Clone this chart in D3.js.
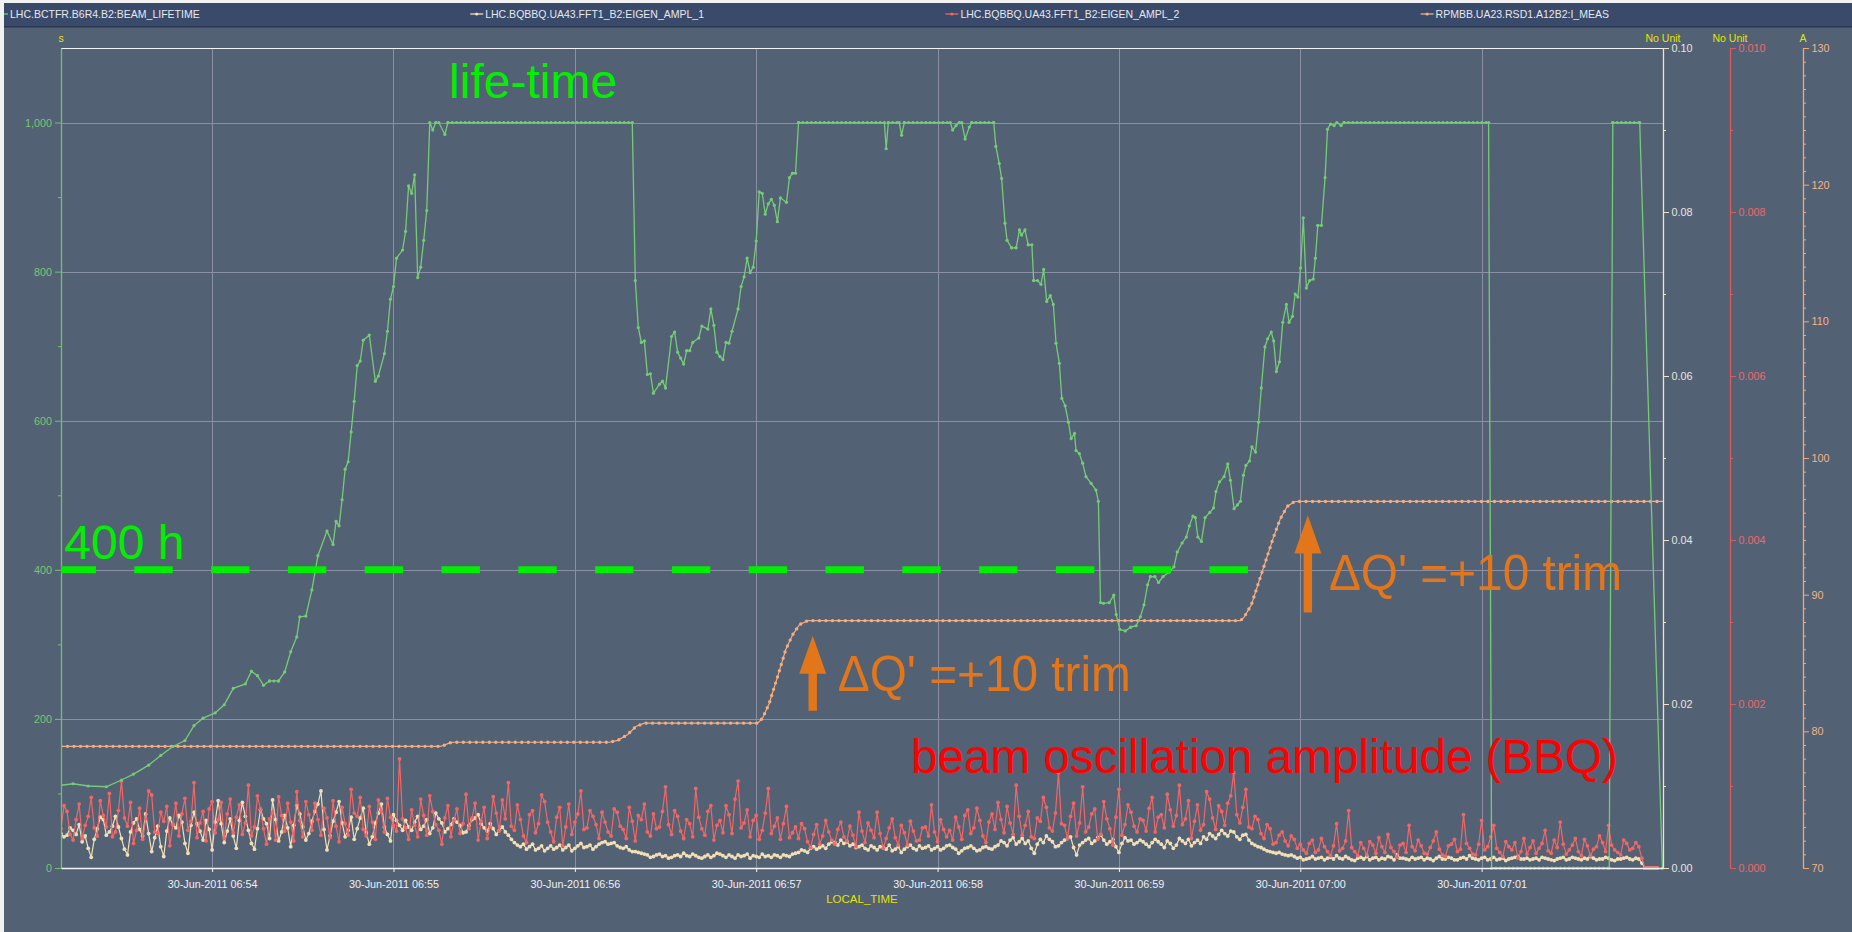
<!DOCTYPE html>
<html>
<head>
<meta charset="utf-8">
<script src="https://cdn.jsdelivr.net/npm/d3@7"></script>
<style>
  html, body { margin: 0; padding: 0; background: #536174; overflow: hidden; }
  svg { display: block; }
  text { font-family: "Liberation Sans", Arial, sans-serif; }
</style>
</head>
<body>
<svg id="chart"></svg>
<script>
const width = 1852, height = 932;
const plotLeft = 61, plotRight = 1663, plotTop = 48, plotBottom = 868;

// all times are seconds after 30-Jun-2011 06:53:00
const startTime = new Date(2011, 5, 30, 6, 53, 0);
const timeDomain = [10, 540];

const legendNames = ['LHC.BCTFR.B6R4.B2:BEAM_LIFETIME', 'LHC.BQBBQ.UA43.FFT1_B2:EIGEN_AMPL_1',
    'LHC.BQBBQ.UA43.FFT1_B2:EIGEN_AMPL_2', 'RPMBB.UA23.RSD1.A12B2:I_MEAS'];
const unitNames = ['s', 'No Unit', 'No Unit', 'A'];

const lifeTicks = [0, 200, 400, 600, 800, 1000];
const lifeMinor = [100, 300, 500, 700, 900];
const ampl1Ticks = [0, 0.02, 0.04, 0.06, 0.08, 0.10];
const ampl1Minor = [0.01, 0.03, 0.05, 0.07, 0.09];
const ampl2Ticks = [0, 0.002, 0.004, 0.006, 0.008, 0.010];
const ampl2Minor = [0.001, 0.003, 0.005, 0.007, 0.009];
const currentTicks = [70, 80, 90, 100, 110, 120, 130];

// beam lifetime [s after 06:53, lifetime]
const lifetime = [
    [10,111],[14,113],[19,110],[25,109],[30,118],[34,126],[39,138],[43,151],[47,163],[51,171],
    [54,191],[57,201],[61,208],[64,219],[67,241],[71,247],[73,264],[75,258],[77,245],[79,251],
    [82,251],[84,263],[86,290],[88,310],[89,337],[91,338],[93,373],[95,419],[98,452],[100,434],
    [101,465],[102,459],[103,494],[104,535],[105,545],[106,585],[107,626],[108,674],[109,680],[110,708],
    [112,715],[114,653],[115,660],[117,690],[118,720],[119,763],[120,780],[121,818],[123,829],[124,854],
    [125,915],[126,905],[127,930],[128,792],[129,806],[130,842],[131,882],[132,1000],[133,990],[134,1000],
    [135,1000],[137,984],[138,1000],[199,1000],[200,788],[201,725],[202,705],[203,707],[204,662],[205,663],
    [206,637],[208,649],[209,653],[210,644],[212,713],[213,719],[214,692],[215,684],[216,676],[217,694],
    [218,694],[219,705],[221,711],[222,727],[224,723],[225,750],[226,728],[227,692],[228,686],[229,682],
    [230,705],[231,704],[232,720],[234,750],[235,780],[236,793],[237,818],[238,799],[239,806],[240,841],
    [241,907],[242,905],[243,877],[244,891],[245,897],[246,889],[247,867],[248,899],[250,893],[251,926],
    [252,932],[253,932],[254,1000],[282.4,1000],[283,965],[283.7,1000],[287.3,1000],[288.1,983],[289,1000],[304.2,1000],
    [305,990],[306.1,996],[307.2,1000],[308,1000],[309.1,978],[310.5,994],[311.3,1000],[318.6,1000],[319.3,968],[320.4,945],
    [321.2,925],[322.3,865],[323,842],[324.5,832],[326,832],[327.1,856],[327.8,849],[328.9,856],[330,836],[331.2,836],
    [331.8,788],[333.1,788],[334.2,783],[335.1,803],[336.1,760],[337.3,768],[338.3,756],[339.2,704],[340.3,677],[341.1,630],
    [342.2,620],[343.3,598],[344.2,576],[345.3,583],[345.8,560],[346.9,556],[348,543],[349.1,525],[350.8,516],[352.4,507],
    [353.2,492],[353.9,356],[354.9,355],[356.8,356],[358.3,366],[359.1,340],[360.3,320],[362.1,318],[363.9,323],[365.7,325],
    [367.1,337],[368.3,353],[369.5,380],[370.4,391],[371.9,391],[373.1,383],[374.6,391],[376.6,397],[378.2,404],[379.3,424],
    [380.9,436],[382.3,444],[383.3,459],[384.5,472],[385.3,470],[386.1,444],[387.3,438],[388.5,470],[390.1,477],[391.3,483],
    [392.1,505],[393.3,518],[394.8,525],[396,542],[396.9,520],[398.1,482],[399.2,487],[400.2,492],[401.2,527],[402,540],
    [403.2,546],[404,565],[405.2,558],[406.2,598],[407.1,644],[408.3,699],[409.2,710],[410.4,719],[411.2,707],[412.1,666],
    [413.1,679],[414.2,732],[415.4,756],[416.3,732],[417.4,740],[418.3,770],[419.2,766],[420.1,805],[421,872],[422,778],
    [423.1,788],[424.3,790],[425,818],[425.8,862],[427,862],[428.2,926],[429,991],[430,998],[431.2,996],[432.1,1000],
    [433.5,996],[434.5,1000],[482.3,1000],[483.3,0],[522.2,0],[523.4,1000],[532.3,1000],[539.8,0]
];

// RSD1 current [s after 06:53, A]
const iMeas = [
    [10,78.9],[135.5,78.9],[137,79.0],[138.5,79.15],[140,79.2],[191.4,79.2],[194.2,79.34],[197.5,79.77],
    [200.2,80.35],[203,80.6],[240.5,80.6],[242.1,80.96],[244.3,82.04],[247.1,84.02],[249.8,86.0],[252.1,87.08],
    [254.3,87.8],[257,88.1],[400.2,88.1],[401.4,88.35],[403.8,89.25],[406.2,90.87],[408.6,92.49],[411,94.12],
    [413.4,95.56],[415.7,96.46],[418,96.8],[419.3,96.82],[540,96.82]
];

// BBQ amplitudes, one sample per second from 06:53:10
const bbqStart = 10, bbqStep = 1;
// EIGEN_AMPL_1, in units of 1e-3
const ampl1 = [
    4.2,3.8,4.0,4.9,4.6,4.1,5.3,3.2,3.9,2.4,1.3,3.5,4.8,6.2,5.9,4.0,4.4,5.1,6.3,5.0,
    3.6,2.3,1.6,4.4,5.5,6.0,4.7,3.9,6.6,4.2,2.0,3.7,5.1,2.6,1.4,4.5,6.1,5.3,4.9,6.4,
    5.6,3.0,1.8,5.2,6.8,5.4,4.5,3.4,5.8,4.7,2.2,5.6,
    8.2,5.4,3.1,4.5,6.0,3.9,2.4,5.8,8.0,6.3,4.6,3.0,2.3,4.8,7.1,6.0,5.4,3.6,8.3,5.9,
    3.3,4.4,6.4,4.9,2.6,5.2,7.6,6.6,5.0,3.4,4.2,5.7,6.9,7.8,9.4,4.7,2.2,3.9,5.7,6.8,
    8.1,5.5,3.8,4.6,6.2,3.5,4.8,6.1,7.3,4.3,2.9,3.8,5.5,6.7,7.8,5.0,4.1,3.3,6.5,5.8,
    5.2,4.6,
    5.8,5.0,4.6,5.6,6.3,4.7,5.1,5.9,4.2,4.9,6.7,6.0,5.5,4.4,4.8,5.3,6.0,5.6,5.2,4.3,
    4.4,5.2,5.9,6.1,6.5,5.4,4.9,4.5,5.4,4.8,4.1,4.6,5.0,4.4,
    4.0,3.5,3.1,2.8,2.6,2.9,2.3,2.6,2.9,2.2,2.4,2.7,2.1,2.4,2.7,2.3,2.5,2.8,2.2,2.5,
    2.8,2.1,2.4,2.7,3.0,2.5,2.6,2.8,2.3,2.6,2.9,3.1,
    3.2,2.9,3.0,3.1,2.7,2.5,2.4,2.6,2.2,2.0,2.0,1.9,1.8,1.7,
    1.6,1.3,1.4,1.6,1.7,1.4,1.5,1.2,1.3,1.5,1.6,1.4,1.8,1.5,1.4,1.7,1.5,1.3,1.2,1.4,
    1.6,1.3,1.5,1.8,1.7,1.5,1.3,1.6,1.4,1.2,1.6,1.4,1.5,1.7,1.2,1.5,1.4,1.3,1.7,1.4,
    1.5,1.3,1.6,1.5,1.3,1.6,1.5,1.4,1.7,1.8,
    1.9,2.2,2.1,1.9,2.4,2.6,2.3,2.5,2.7,2.4,2.9,3.2,3.1,2.8,3.4,3.0,3.2,2.7,
    2.9,2.5,2.6,2.8,2.4,2.2,2.7,2.5,2.2,2.6,2.5,2.3,2.8,2.1,2.3,2.6,1.9,2.3,2.6,2.8,
    2.4,2.2,2.7,2.4,2.5,2.7,2.2,2.4,2.6,2.2,2.4,2.7,2.8,2.5,2.3,1.8,2.1,2.4,2.5,2.7,
    2.4,2.1,2.2,2.5,2.6,2.4,2.3,2.6,
    2.8,3.3,3.1,2.7,3.4,3.7,2.9,3.2,3.6,3.0,3.3,2.4,1.8,2.9,3.5,3.1,3.9,3.5,3.2,2.6,
    2.7,3.1,3.4,3.6,3.8,2.5,1.6,2.8,3.1,3.4,3.6,3.0,3.3,3.7,4.0,3.4,2.9,3.2,3.5,2.6,
    1.9,3.0,3.7,3.3,3.4,2.9,3.1,3.4,
    3.2,2.9,2.6,3.1,3.5,3.2,2.9,2.5,3.3,3.0,2.4,2.8,3.6,3.3,3.0,3.5,2.7,3.1,3.4,3.0,
    3.8,3.5,4.2,3.9,3.6,4.1,4.6,4.2,3.9,4.5,4.4,3.8,3.5,4.0,4.1,3.4,3.0,2.8,
    2.6,2.5,2.3,2.1,2.0,1.9,1.8,1.9,1.7,1.6,1.5,1.6,1.4,1.2,
    1.3,1.0,1.1,1.2,1.4,1.1,1.2,1.3,1.0,1.2,1.3,1.1,1.5,1.2,1.1,1.4,1.2,1.0,0.9,1.2,
    1.3,1.1,1.4,1.0,1.2,1.3,1.0,1.2,1.1,1.4,1.3,1.0,1.6,1.2,1.2,1.1,1.0,1.3,1.1,1.2,
    1.3,1.0,1.2,1.1,0.9,1.2,1.4,1.1,1.1,1.3,1.2,1.0,1.0,1.2,1.3,1.1,1.5,1.2,1.1,1.0,
    1.2,1.3,1.0,1.1,1.3,1.0,1.1,1.2,0.9,1.1,1.2,1.3,1.4,1.1,1.1,1.2,1.0,1.1,1.2,1.0,
    1.3,1.2,1.1,1.0,0.9,1.1,1.2,1.3,1.0,1.1,1.3,1.2,1.1,1.0,1.2,1.1,1.4,1.2,1.0,1.1,
    1.1,1.3,1.2,1.0,0.9,1.1,1.1,1.2,1.3,1.1,1.0,1.2,1.1,0.6,
    0,0,0,0,0
];
// EIGEN_AMPL_2, in units of 1e-4
const ampl2 = [
    4.8,7.6,6.9,4.1,3.4,5.9,7.8,3.6,5.2,6.3,8.6,4.9,3.9,8.2,6.4,5.0,9.1,3.8,4.4,7.0,
    10.6,6.1,5.1,8.0,3.0,4.6,7.3,3.5,6.0,9.4,8.9,4.4,4.2,6.8,5.7,7.5,2.7,5.3,7.9,3.9,
    6.6,8.5,4.6,5.7,10.4,3.7,5.5,6.9,3.3,7.2,8.1,4.3,
    5.9,8.0,3.6,6.6,8.4,4.3,6.2,7.7,4.1,5.5,10.1,3.9,5.0,8.8,7.2,4.8,2.9,6.0,6.8,3.4,
    8.7,6.4,4.5,7.9,5.6,3.3,9.3,5.8,3.8,8.1,6.5,4.6,7.9,5.9,4.0,7.3,6.1,3.7,8.2,5.1,
    3.2,7.4,5.4,4.0,9.6,6.7,6.3,8.6,4.7,3.9,7.5,5.6,3.5,8.3,6.9,4.4,8.5,6.2,5.2,4.5,
    13.3,6.0,
    4.9,3.5,7.1,5.2,3.8,8.4,6.4,4.0,8.8,6.9,5.3,4.6,2.9,6.1,7.6,3.8,5.8,7.2,4.2,5.4,
    9.0,4.8,6.1,7.9,3.4,5.7,7.4,3.6,5.0,8.7,6.7,4.5,8.3,6.0,10.4,5.1,4.6,7.7,5.9,3.9,
    3.1,6.5,7.0,4.3,5.4,8.9,8.1,5.6,4.4,3.2,6.2,7.4,2.7,5.0,7.8,4.1,5.6,6.6,9.4,4.7,
    4.9,7.0,6.3,5.3,3.6,6.8,
    5.6,4.4,3.9,7.2,6.8,5.1,4.7,3.6,7.4,5.7,3.3,6.4,5.9,7.8,4.4,3.9,6.6,4.8,5.0,6.9,
    9.9,5.3,4.1,7.0,6.3,4.5,3.6,5.9,5.4,3.8,9.7,6.2,4.8,4.0,6.9,7.6,3.4,5.2,5.8,4.3,
    7.6,6.5,4.2,8.4,10.6,4.9,5.5,7.1,3.8,5.8,6.4,3.5,4.6,6.7,9.7,4.2,5.1,6.1,3.5,5.4,
    7.5,3.7,4.3,5.0,
    3.6,5.4,4.8,3.2,2.5,4.1,5.3,2.9,3.9,5.8,4.4,3.4,2.9,4.7,5.6,3.8,3.3,5.1,4.0,2.6,
    6.8,4.5,3.1,5.5,4.6,3.7,6.8,4.2,2.4,3.6,4.9,6.0,3.7,2.8,5.2,4.3,2.8,5.7,4.5,3.3,
    3.4,4.9,5.0,3.9,7.7,4.4,3.2,5.9,4.7,3.8,
    4.6,3.4,6.2,5.0,3.5,6.4,7.1,4.2,4.9,7.3,5.8,3.9,3.1,5.6,6.6,4.7,8.0,5.9,4.3,7.5,
    5.5,4.1,10.1,6.3,4.0,5.2,6.9,3.8,3.6,6.1,5.7,8.6,7.4,4.9,4.5,6.7,11.6,5.4,5.2,3.6,
    6.3,7.9,3.9,5.5,9.9,4.4,5.0,6.6,7.2,3.5,4.1,8.1,6.0,4.8,2.8,6.2,9.6,4.0,5.3,7.7,
    6.8,5.1,4.4,6.0,
    5.8,4.5,7.3,8.6,4.4,6.2,6.5,4.9,9.0,7.1,5.1,6.4,10.1,5.3,6.0,8.2,3.6,5.7,7.7,4.6,
    5.3,9.3,8.4,6.1,4.7,7.6,6.9,5.2,7.9,8.8,11.6,6.5,5.5,7.4,9.6,5.0,4.8,6.3,
    5.9,4.2,3.6,5.3,4.8,2.9,3.1,4.0,4.4,3.3,2.7,3.9,3.5,2.4,
    2.9,2.2,1.8,3.0,3.4,1.9,2.2,3.6,2.6,2.0,1.5,2.7,5.4,2.1,2.4,3.3,7.0,2.5,2.0,1.5,
    3.1,2.4,1.6,3.2,2.8,1.8,3.7,2.6,1.9,4.1,2.5,2.0,1.3,2.8,3.0,1.9,5.2,2.6,2.1,3.4,
    2.7,1.8,1.7,2.5,3.3,4.4,2.3,1.6,1.4,2.7,2.9,3.5,2.0,2.3,6.5,3.0,2.4,1.7,1.6,2.9,
    5.8,2.2,2.6,3.8,5.2,2.4,1.9,1.4,3.2,2.6,2.2,3.1,1.2,2.0,3.6,1.7,2.5,3.3,1.8,2.4,
    3.0,4.6,2.1,1.8,3.4,2.5,5.6,2.9,1.7,2.2,2.8,3.6,2.0,1.5,3.5,2.7,1.5,2.3,2.6,3.9,
    3.1,2.0,5.2,2.8,2.2,1.9,1.6,3.4,3.0,2.2,2.4,3.1,2.6,1.2,
    0,0,0,0,0
];

// annotations, placed in data coordinates
const thresholdValue = 400, thresholdEnd = 403;
const arrows = [{t: 258.7, from: 81.5, to: 87.0}, {t: 422.5, from: 88.7, to: 95.8}];
const trimLabels = [{t: 267, a: 82.95}, {t: 429.5, a: 90.34}];

const colors = {
    life: '#76cc76', ampl1: '#f2dfb6', ampl2: '#f26666', current: '#f4ad80',
    grid: '#8b8fa6', unit: '#e4e400', note: '#e3761a'
};

const toDate = s => new Date(startTime.getTime() + s * 1000);

const svg = d3.select('#chart')
    .attr('width', width)
    .attr('height', height);

svg.append('rect').attr('width', width).attr('height', height).attr('fill', '#536174');

const x = d3.scaleTime().domain(timeDomain.map(toDate)).range([plotLeft, plotRight]);
const yLife = d3.scaleLinear().domain([0, 1100]).range([plotBottom, plotTop]);
const yA1 = d3.scaleLinear().domain([0, 0.10]).range([plotBottom, plotTop]);
const yA2 = d3.scaleLinear().domain([0, 0.010]).range([plotBottom, plotTop]);
const yI = d3.scaleLinear().domain([70, 130]).range([plotBottom, plotTop]);
const minuteTicks = d3.timeMinute.range(...x.domain());

// title bar with legend
svg.append('rect').attr('x', 0).attr('y', 3).attr('width', width).attr('height', 24).attr('fill', '#3a4a6a');
svg.append('rect').attr('x', 0).attr('y', 26).attr('width', width).attr('height', 1.5).attr('fill', '#2b3853');
const legendColors = [colors.life, colors.ampl1, colors.ampl2, colors.current];
const legend = svg.append('g').selectAll('g')
    .data(legendNames)
    .join('g')
    .attr('transform', (d, i) => `translate(${10 + i * 475.2},0)`);
legend.append('line')
    .attr('x1', -15).attr('x2', -2).attr('y1', 14).attr('y2', 14)
    .attr('stroke', (d, i) => legendColors[i]).attr('stroke-width', 1.3);
legend.append('circle')
    .attr('cx', -8.5).attr('cy', 14).attr('r', 1.6)
    .attr('fill', (d, i) => legendColors[i]);
legend.append('text')
    .attr('x', 0).attr('y', 18)
    .attr('font-size', '10.5px')
    .attr('fill', '#e6e8ee')
    .text(d => d);

// grid
const grid = svg.append('g').attr('stroke', colors.grid).attr('stroke-width', 1);
grid.selectAll('.vgrid')
    .data(minuteTicks)
    .join('line')
    .attr('x1', d => Math.round(x(d)) + 0.5).attr('x2', d => Math.round(x(d)) + 0.5)
    .attr('y1', plotTop).attr('y2', plotBottom);
grid.selectAll('.hgrid')
    .data(lifeTicks.slice(1))
    .join('line')
    .attr('x1', plotLeft).attr('x2', plotRight)
    .attr('y1', d => Math.round(yLife(d)) + 0.5).attr('y2', d => Math.round(yLife(d)) + 0.5);
svg.append('line')
    .attr('x1', plotLeft).attr('x2', plotRight).attr('y1', plotTop + 0.5).attr('y2', plotTop + 0.5)
    .attr('stroke', '#f4f4f4').attr('stroke-width', 1.2);

svg.append('clipPath').attr('id', 'plotClip')
    .append('rect')
    .attr('x', plotLeft).attr('y', plotTop - 2)
    .attr('width', plotRight - plotLeft + 1).attr('height', plotBottom - plotTop + 4);
const plot = svg.append('g').attr('clip-path', 'url(#plotClip)');

// BBQ series
function drawBbq(values, unit, yScale, color) {
    const pts = values.map((v, i) => [toDate(bbqStart + i * bbqStep), v * unit]);
    const g = plot.append('g');
    g.append('path')
        .datum(pts)
        .attr('fill', 'none')
        .attr('stroke', color)
        .attr('stroke-width', 1.2)
        .attr('d', d3.line().x(d => x(d[0])).y(d => yScale(d[1])));
    g.selectAll('circle')
        .data(pts)
        .join('circle')
        .attr('cx', d => x(d[0]))
        .attr('cy', d => yScale(d[1]))
        .attr('r', 1.9)
        .attr('fill', color);
}
drawBbq(ampl1, 1e-3, yA1, colors.ampl1);
drawBbq(ampl2, 1e-4, yA2, colors.ampl2);

// magnet current
const currentLine = d3.line().x(d => x(toDate(d[0]))).y(d => yI(d[1]));
plot.append('path')
    .datum(iMeas)
    .attr('fill', 'none')
    .attr('stroke', colors.current)
    .attr('stroke-width', 1.2)
    .attr('d', currentLine);
plot.append('path')
    .datum(iMeas)
    .attr('fill', 'none')
    .attr('stroke', colors.current)
    .attr('stroke-width', 3.4)
    .attr('stroke-linecap', 'round')
    .attr('stroke-dasharray', '0 6.5')
    .attr('d', currentLine);

// beam lifetime
const lifeLine = d3.line().x(d => x(toDate(d[0]))).y(d => yLife(d[1]));
plot.append('path')
    .datum(lifetime)
    .attr('fill', 'none')
    .attr('stroke', colors.life)
    .attr('stroke-width', 1.3)
    .attr('d', lifeLine);
const flats = [];
for (let i = 0; i < lifetime.length - 1; i++) {
    if (lifetime[i][1] === lifetime[i + 1][1]) flats.push([lifetime[i], lifetime[i + 1]]);
}
plot.append('g').selectAll('path')
    .data(flats)
    .join('path')
    .attr('fill', 'none')
    .attr('stroke', colors.life)
    .attr('stroke-width', 3)
    .attr('stroke-linecap', 'round')
    .attr('stroke-dasharray', '0 4.3')
    .attr('d', lifeLine);
plot.append('g').selectAll('circle')
    .data(lifetime)
    .join('circle')
    .attr('cx', d => x(toDate(d[0])))
    .attr('cy', d => yLife(d[1]))
    .attr('r', 1.6)
    .attr('fill', colors.life);

// axes
function styleAxis(g, color, labelColor) {
    g.selectAll('path.domain').attr('stroke', color).attr('stroke-width', 1.3);
    g.selectAll('.tick line').attr('stroke', color);
    g.selectAll('.tick text').attr('fill', labelColor).attr('font-size', '10.8px')
        .attr('font-family', '"Liberation Sans", Arial, sans-serif');
}
const leftAxis = svg.append('g')
    .attr('transform', `translate(${plotLeft},0)`)
    .call(d3.axisLeft(yLife).tickValues(lifeTicks).tickFormat(d3.format(',')).tickSize(6).tickPadding(3).tickSizeOuter(0));
styleAxis(leftAxis, '#6cc46c', '#74c874');
svg.append('g')
    .attr('transform', `translate(${plotLeft},0)`)
    .call(d3.axisLeft(yLife).tickValues(lifeMinor).tickFormat('').tickSize(3).tickSizeOuter(0))
    .call(g => { g.select('.domain').remove(); g.selectAll('line').attr('stroke', '#6cc46c'); });

const bottomAxis = svg.append('g')
    .attr('transform', `translate(0,${plotBottom})`)
    .call(d3.axisBottom(x).tickValues(minuteTicks).tickFormat(d3.timeFormat('%d-%b-%Y %H:%M'))
        .tickSize(4).tickPadding(8).tickSizeOuter(0));
styleAxis(bottomAxis, '#f4f4f4', '#eef0f4');

const rightAxes = [
    {pos: plotRight, scale: yA1, ticks: ampl1Ticks, minor: ampl1Minor, fmt: d3.format('.2f'), color: '#efe3c8', label: '#e8e6e0'},
    {pos: 1730, scale: yA2, ticks: ampl2Ticks, minor: ampl2Minor, fmt: d3.format('.3f'), color: '#d95c5c', label: '#ec6a6a'},
    {pos: 1803, scale: yI, ticks: currentTicks, minor: d3.range(71, 130).filter(v => v % 10 !== 0), fmt: d3.format('d'), color: '#f0a878', label: '#f2b48a'}
];
rightAxes.forEach(a => {
    const g = svg.append('g')
        .attr('transform', `translate(${a.pos},0)`)
        .call(d3.axisRight(a.scale).tickValues(a.ticks).tickFormat(a.fmt).tickSize(6).tickPadding(2.5).tickSizeOuter(0));
    styleAxis(g, a.color, a.label);
    svg.append('g')
        .attr('transform', `translate(${a.pos},0)`)
        .call(d3.axisRight(a.scale).tickValues(a.minor).tickFormat('').tickSize(3).tickSizeOuter(0))
        .call(m => { m.select('.domain').remove(); m.selectAll('line').attr('stroke', a.color); });
});

// unit labels
const unitX = [plotLeft, plotRight, 1730, 1803];
svg.append('g').selectAll('text')
    .data(unitNames)
    .join('text')
    .attr('x', (d, i) => unitX[i])
    .attr('y', 42)
    .attr('text-anchor', 'middle')
    .attr('font-size', '10.5px')
    .attr('fill', colors.unit)
    .text(d => d);

svg.append('text')
    .attr('x', (plotLeft + plotRight) / 2)
    .attr('y', 903)
    .attr('text-anchor', 'middle')
    .attr('font-size', '11.5px')
    .attr('fill', colors.unit)
    .text('LOCAL_TIME');

// annotations
svg.append('line')
    .attr('x1', x(toDate(timeDomain[0]))).attr('x2', x(toDate(thresholdEnd)))
    .attr('y1', yLife(thresholdValue)).attr('y2', yLife(thresholdValue))
    .attr('stroke', '#00ee00')
    .attr('stroke-width', 7)
    .attr('stroke-dasharray', '38.4 38.4')
    .attr('stroke-dashoffset', 3.5);

svg.append('text')
    .attr('x', x(toDate(11.1))).attr('y', yLife(414.5))
    .attr('font-size', '48px').attr('fill', '#00f000')
    .text('400 h');
svg.append('text')
    .attr('x', x(toDate(138.4))).attr('y', yLife(1033))
    .attr('font-size', '48px').attr('fill', '#00f000')
    .text('life-time');
svg.append('text')
    .attr('x', x(toDate(291.2))).attr('y', yA2(0.001159))
    .attr('font-size', '48px').attr('fill', '#ff0000')
    .attr('textLength', 707).attr('lengthAdjust', 'spacingAndGlyphs')
    .text('beam oscillation amplitude (BBQ)');

svg.append('g').selectAll('path')
    .data(arrows)
    .join('path')
    .attr('fill', colors.note)
    .attr('d', d => {
        const cx = x(toDate(d.t)), tip = yI(d.to), base = yI(d.from), head = tip + 38;
        return `M${cx},${tip} L${cx + 13.5},${head} L${cx + 4.2},${head} L${cx + 4.2},${base}` +
            ` L${cx - 4.2},${base} L${cx - 4.2},${head} L${cx - 13.5},${head} Z`;
    });
svg.append('g').selectAll('text')
    .data(trimLabels)
    .join('text')
    .attr('x', d => x(toDate(d.t)))
    .attr('y', d => yI(d.a))
    .attr('font-size', '50px')
    .attr('fill', colors.note)
    .attr('textLength', 293).attr('lengthAdjust', 'spacingAndGlyphs')
    .text("ΔQ' =+10 trim");

// screenshot edge
svg.append('rect').attr('x', 0).attr('y', 0).attr('width', width).attr('height', 3).attr('fill', '#f2f2f2');
svg.append('rect').attr('x', 0).attr('y', 0).attr('width', 4).attr('height', height).attr('fill', '#f2f2f2');
</script>
</body>
</html>
